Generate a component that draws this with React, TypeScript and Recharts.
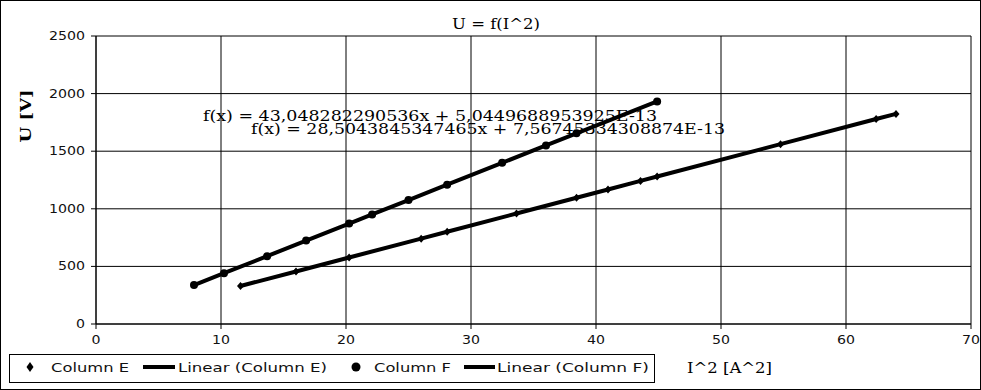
import React from 'react';
import { ScatterChart, Scatter, XAxis, YAxis, CartesianGrid } from 'recharts';

// I^2 [A^2] and U [V]
const columnE_I2 = [11.56, 16, 20.25, 26.01, 28.09, 33.64, 38.44, 40.96, 43.56, 44.89, 54.76, 62.41, 64];
const columnE_U = [330, 456, 577, 741, 801, 959, 1096, 1168, 1242, 1280, 1561, 1779, 1824];
const columnF_I2 = [7.84, 10.24, 13.69, 16.81, 20.25, 22.09, 25, 28.09, 32.49, 36, 38.44, 44.89];
const columnF_U = [338, 441, 589, 724, 872, 951, 1076, 1209, 1399, 1550, 1655, 1932];

const xTicks = [0, 10, 20, 30, 40, 50, 60, 70];
const yTicks = [0, 500, 1000, 1500, 2000, 2500];

const fitE = 'f(x) = 28,5043845347465x + 7,56745334308874E-13';
const fitF = 'f(x) = 43,048282290536x + 5,0449688953925E-13';

const toPoints = (xs: number[], ys: number[]) => xs.map((x, i) => ({ x, y: ys[i] }));
const dataE = toPoints(columnE_I2, columnE_U);
const dataF = toPoints(columnF_I2, columnF_U);

const sans = 'DejaVu Sans';
const serif = 'DejaVu Serif';

const Diamond = ({ cx, cy }: any) => (
  <path d={`M${cx},${cy - 4}L${cx + 3.5},${cy}L${cx},${cy + 4}L${cx - 3.5},${cy}Z`} fill="#000" />
);
const Dot = ({ cx, cy }: any) => <circle cx={cx} cy={cy} r={4} fill="#000" />;
const NoShape = () => <g />;

const YTick = ({ x, y, payload }: any) => {
  const s = String(payload.value);
  return (
    <text x={x} y={y + 4} textAnchor="end" fontFamily={sans} fontSize={12} fill="#111"
      textLength={s.length * 9} lengthAdjust="spacingAndGlyphs">{s}</text>
  );
};
const XTick = ({ x, y, payload }: any) => {
  const s = String(payload.value);
  return (
    <text x={x} y={y + 12} textAnchor="middle" fontFamily={sans} fontSize={12} fill="#111"
      textLength={s.length * 9} lengthAdjust="spacingAndGlyphs">{s}</text>
  );
};

function Backdrop() {
  const lt = { fontFamily: sans, fontSize: 12, fill: '#111', lengthAdjust: 'spacingAndGlyphs' as const };
  return (
    <svg width={981} height={390} style={{ position: 'absolute', left: 0, top: 0 }}>
      <rect x={0.5} y={0.5} width={980} height={389} fill="#fff" stroke="#000" />
      <text x={452} y={29} fontFamily={serif} fontSize={14} textLength={88} lengthAdjust="spacingAndGlyphs">U = f(I^2)</text>
      <text x={203} y={121} fontFamily={serif} fontSize={15} textLength={454} lengthAdjust="spacingAndGlyphs">{fitF}</text>
      <text x={251} y={134} fontFamily={serif} fontSize={15} textLength={474} lengthAdjust="spacingAndGlyphs">{fitE}</text>
      <text transform="translate(31,116) rotate(-90)" textAnchor="middle" fontFamily={serif} fontWeight="bold"
        fontSize={15} textLength={53} lengthAdjust="spacingAndGlyphs">U [V]</text>
      <text x={687} y={373} fontFamily={serif} fontSize={14} textLength={85} lengthAdjust="spacingAndGlyphs">I^2 [A^2]</text>

      <rect x={9.5} y={354.5} width={645} height={28} fill="none" stroke="#000" />
      <path d="M30,362L33.5,367L30,372L26.5,367Z" fill="#000" />
      <text x={51} y={372} {...lt} textLength={78}>Column E</text>
      <line x1={143} y1={367} x2={175} y2={367} stroke="#000" strokeWidth={4} />
      <text x={178} y={372} {...lt} textLength={149}>Linear (Column E)</text>
      <circle cx={356} cy={367} r={4.5} fill="#000" />
      <text x={374} y={372} {...lt} textLength={77}>Column F</text>
      <line x1={464} y1={367} x2={495} y2={367} stroke="#000" strokeWidth={4} />
      <text x={497} y={372} {...lt} textLength={152}>Linear (Column F)</text>
    </svg>
  );
}

export default function App() {
  return (
    <div style={{ position: 'relative', width: 981, height: 390 }}>
      <style>{'body{margin:0}'}</style>
      <Backdrop />
      <div style={{ position: 'absolute', left: 0, top: 0 }}>
        <ScatterChart width={981} height={390} margin={{ top: 36, right: 10, left: 0, bottom: 36 }}>
          <CartesianGrid stroke="#000" strokeOpacity={1} />
          <XAxis type="number" dataKey="x" domain={[0, 70]} ticks={xTicks} height={30}
            axisLine={{ stroke: '#000' }} tickLine={{ stroke: '#000' }} tickSize={5} tickMargin={3} tick={<XTick />} />
          <YAxis type="number" dataKey="y" domain={[0, 2500]} ticks={yTicks} width={96}
            axisLine={{ stroke: '#000' }} tickLine={{ stroke: '#000' }} tickSize={5} tickMargin={6} tick={<YTick />} />
          <Scatter name="Column E" data={dataE} shape={<Diamond />} isAnimationActive={false} />
          <Scatter name="Linear (Column E)" data={dataE} shape={<NoShape />} line={{ stroke: '#000', strokeWidth: 4 }}
            isAnimationActive={false} />
          <Scatter name="Column F" data={dataF} shape={<Dot />} isAnimationActive={false} />
          <Scatter name="Linear (Column F)" data={dataF} shape={<NoShape />} line={{ stroke: '#000', strokeWidth: 4 }}
            isAnimationActive={false} />
        </ScatterChart>
      </div>
    </div>
  );
}
